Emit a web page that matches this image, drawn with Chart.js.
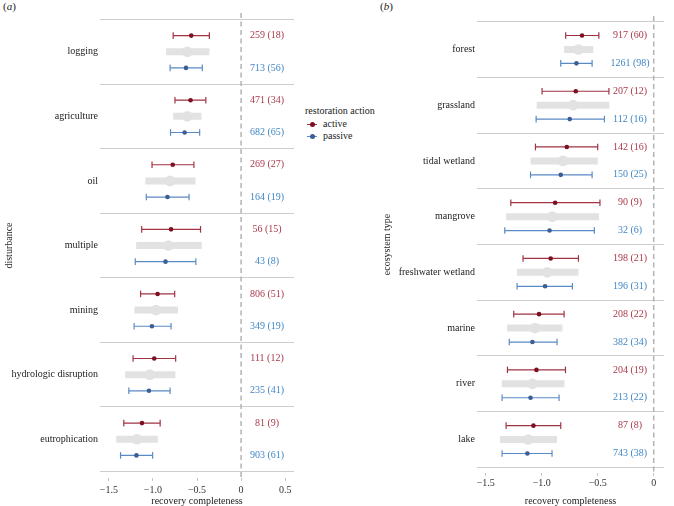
<!DOCTYPE html>
<html>
<head>
<meta charset="utf-8">
<script src="https://cdn.jsdelivr.net/npm/chart.js@4"></script>
<style>
    body { margin: 0; background: #fff; font-family: 'Liberation Serif', serif; }
    #wrap { position: relative; width: 674px; height: 506px; overflow: hidden; }
    .panel { position: absolute; top: 0; }
    .tag { position: absolute; top: 0; font-size: 11px; color: #222; }
    #legend { position: absolute; left: 305px; top: 105px; font-size: 10px; color: #222; line-height: 12.5px; }
    .item { padding-left: 2px; }
    .key { position: relative; display: inline-block; width: 10px; height: 0; border-top: 1.2px solid; vertical-align: middle; margin-right: 6px; }
    .key i { position: absolute; left: 3px; top: -3.1px; width: 5px; height: 5px; border-radius: 50%; }
</style>
</head>
<body>
<div id="wrap">
    <div class="tag" style="left:3px">(<i>a</i>)</div>
    <div class="tag" style="left:380px">(<i>b</i>)</div>
    <canvas id="distChart" class="panel" style="left:0" width="300" height="506"></canvas>
    <canvas id="ecoChart" class="panel" style="left:378px" width="296" height="506"></canvas>
    <div id="legend">
        <div>restoration action</div>
        <div class="item"><span class="key" style="color:#a23343"><i style="background:#7d1020"></i></span>active</div>
        <div class="item"><span class="key" style="color:#5a8ac6"><i style="background:#3b5e95"></i></span>passive</div>
    </div>
</div>
<script>
// panel (a): disturbance
const disturbances = ['logging', 'agriculture', 'oil', 'multiple', 'mining', 'hydrologic disruption', 'eutrophication'];
const distActive   = [-0.565, -0.573, -0.775, -0.794, -0.947, -0.985, -1.124];
const distActiveLo = [-0.77, -0.75, -1.01, -1.127, -1.14, -1.225, -1.33];
const distActiveHi = [-0.36, -0.40, -0.535, -0.46, -0.753, -0.742, -0.918];
const distPassive   = [-0.625, -0.64, -0.835, -0.857, -1.011, -1.045, -1.187];
const distPassiveLo = [-0.805, -0.80, -1.075, -1.20, -1.213, -1.273, -1.367];
const distPassiveHi = [-0.44, -0.47, -0.59, -0.513, -0.794, -0.805, -1.003];
const distPooled   = [-0.61, -0.61, -0.805, -0.824, -0.966, -1.034, -1.18];
const distPooledLo = [-0.85, -0.77, -1.086, -1.19, -1.21, -1.315, -1.416];
const distPooledHi = [-0.36, -0.45, -0.517, -0.446, -0.716, -0.745, -0.944];
const distActiveN  = ['259 (18)', '471 (34)', '269 (27)', '56 (15)', '806 (51)', '111 (12)', '81 (9)'];
const distPassiveN = ['713 (56)', '682 (65)', '164 (19)', '43 (8)', '349 (19)', '235 (41)', '903 (61)'];
const distTicks = [-1.5, -1, -0.5, 0, 0.5];

// panel (b): ecosystem type
const ecosystems = ['forest', 'grassland', 'tidal wetland', 'mangrove', 'freshwater wetland', 'marine', 'river', 'lake'];
const ecoActive   = [-0.64, -0.696, -0.776, -0.88, -0.92, -1.024, -1.047, -1.074];
const ecoActiveLo = [-0.786, -0.997, -1.056, -1.276, -1.167, -1.25, -1.306, -1.318];
const ecoActiveHi = [-0.49, -0.40, -0.50, -0.48, -0.672, -0.80, -0.788, -0.83];
const ecoPassive   = [-0.69, -0.75, -0.83, -0.93, -0.97, -1.083, -1.10, -1.128];
const ecoPassiveLo = [-0.83, -1.05, -1.10, -1.33, -1.22, -1.29, -1.354, -1.354];
const ecoPassiveHi = [-0.55, -0.44, -0.55, -0.53, -0.726, -0.863, -0.845, -0.908];
const ecoPooled   = [-0.673, -0.72, -0.81, -0.905, -0.95, -1.06, -1.083, -1.12];
const ecoPooledLo = [-0.80, -1.045, -1.10, -1.318, -1.22, -1.31, -1.357, -1.372];
const ecoPooledHi = [-0.54, -0.396, -0.50, -0.488, -0.672, -0.815, -0.797, -0.863];
const ecoActiveN  = ['917 (60)', '207 (12)', '142 (16)', '90 (9)', '198 (21)', '208 (22)', '204 (19)', '87 (8)'];
const ecoPassiveN = ['1261 (98)', '112 (16)', '150 (25)', '32 (6)', '196 (31)', '382 (34)', '213 (22)', '743 (38)'];
const ecoTicks = [-1.5, -1, -0.5, 0];

const SERIF = "'Liberation Serif', 'Times New Roman', serif";
const RED = '#a23343', RED_DOT = '#7d1020', RED_TXT = '#a9394a';
const BLUE = '#5a8ac6', BLUE_DOT = '#3b5e95', BLUE_TXT = '#3f86c4';
const GREY = '#e2e2e2';

// helper: interval segments separated by gaps
function segments(lo, hi, off) {
    const pts = [];
    lo.forEach((v, i) => {
        pts.push({ x: v, y: i + off }, { x: hi[i], y: i + off }, { x: null, y: null });
    });
    return pts;
}

function points(est, off) {
    return est.map((v, i) => ({ x: v, y: i + off }));
}

function fmtTick(v) {
    if (v === 0) return '0';
    return (v < 0 ? '\u2212' : '') + Math.abs(v).toFixed(1);
}

function makePanel(id, p) {
    const n = p.cats.length;
    const yMin = -0.6, yMax = n - 0.4;

    const countLabels = {
        id: 'countLabels',
        afterDatasetsDraw(chart) {
            const { ctx, scales: { x, y } } = chart;
            ctx.save();
            ctx.font = '10px ' + SERIF;
            ctx.textAlign = 'center';
            ctx.textBaseline = 'middle';
            const px = x.getPixelForValue(p.labelX);
            p.cats.forEach((c, i) => {
                ctx.fillStyle = RED_TXT;
                ctx.fillText(p.activeN[i], px, y.getPixelForValue(i - 0.25));
                ctx.fillStyle = BLUE_TXT;
                ctx.fillText(p.passiveN[i], px, y.getPixelForValue(i + 0.25));
            });
            ctx.restore();
        }
    };

    const barStyle = (color) => ({
        type: 'line',
        borderColor: color,
        borderWidth: 1.2,
        pointStyle: 'line',
        rotation: 90,
        pointRadius: 3.3,
        pointBorderColor: color,
        pointBorderWidth: 1.2,
        spanGaps: false
    });

    new Chart(document.getElementById(id), {
        type: 'scatter',
        data: {
            datasets: [
                {
                    type: 'line',
                    data: [{ x: 0, y: yMin }, { x: 0, y: yMax }],
                    borderColor: '#b3b3b3',
                    borderWidth: 1.5,
                    borderDash: [5, 3.5],
                    pointRadius: 0,
                    order: 6
                },
                {
                    type: 'line',
                    data: segments(p.pooledLo, p.pooledHi, 0),
                    borderColor: GREY,
                    borderWidth: 7,
                    borderCapStyle: 'butt',
                    pointRadius: 0,
                    spanGaps: false,
                    order: 5
                },
                {
                    data: points(p.pooled, 0),
                    backgroundColor: GREY,
                    borderWidth: 0,
                    pointRadius: 5.3,
                    order: 4
                },
                Object.assign({ data: segments(p.activeLo, p.activeHi, -0.25), order: 3 }, barStyle(RED)),
                Object.assign({ data: segments(p.passiveLo, p.passiveHi, 0.25), order: 3 }, barStyle(BLUE)),
                {
                    data: points(p.active, -0.25),
                    backgroundColor: RED_DOT,
                    borderWidth: 0,
                    pointRadius: 2.3,
                    order: 1
                },
                {
                    data: points(p.passive, 0.25),
                    backgroundColor: BLUE_DOT,
                    borderWidth: 0,
                    pointRadius: 2.3,
                    order: 1
                }
            ]
        },
        options: {
            responsive: false,
            animation: false,
            events: [],
            layout: { padding: { top: p.top, right: p.right, left: 0, bottom: 0 } },
            plugins: { legend: { display: false }, tooltip: { enabled: false } },
            scales: {
                x: {
                    type: 'linear',
                    min: p.xMin,
                    max: p.xMax,
                    afterBuildTicks: (axis) => { axis.ticks = p.ticks.map(v => ({ value: v })); },
                    afterFit: (scale) => { scale.height = p.xAxisH; },
                    border: { display: false },
                    grid: { drawOnChartArea: false, drawTicks: true, tickLength: 3, color: '#c4c4c4' },
                    ticks: {
                        callback: fmtTick,
                        font: { family: SERIF, size: 10 },
                        color: '#333',
                        padding: p.tickPad,
                        maxRotation: 0
                    },
                    title: {
                        display: true,
                        text: 'recovery completeness',
                        font: { family: SERIF, size: 10, lineHeight: 1 },
                        color: '#222',
                        padding: { top: 0, bottom: 0 }
                    }
                },
                y: {
                    type: 'linear',
                    reverse: true,
                    min: yMin,
                    max: yMax,
                    afterBuildTicks: (axis) => {
                        const t = [];
                        for (let v = -0.5; v <= n - 0.5; v += 0.5) t.push({ value: v });
                        axis.ticks = t;
                    },
                    afterFit: (scale) => { scale.width = p.yAxisW; },
                    border: { display: false },
                    grid: {
                        drawTicks: false,
                        lineWidth: 1,
                        color: (ctx) => ctx.tick && Number.isInteger(ctx.tick.value) ? 'rgba(0,0,0,0)' : '#cdcdcd'
                    },
                    ticks: {
                        autoSkip: false,
                        padding: 2,
                        font: { family: SERIF, size: 10 },
                        color: '#222',
                        callback: (v) => Number.isInteger(v) ? p.cats[v] : ''
                    },
                    title: {
                        display: true,
                        text: p.yTitle,
                        font: { family: SERIF, size: 10, lineHeight: 1.2 },
                        color: '#222',
                        padding: { top: 3, bottom: 0 }
                    }
                }
            }
        },
        plugins: [countLabels]
    });
}

makePanel('distChart', {
    cats: disturbances, yTitle: 'disturbance',
    active: distActive, activeLo: distActiveLo, activeHi: distActiveHi,
    passive: distPassive, passiveLo: distPassiveLo, passiveHi: distPassiveHi,
    pooled: distPooled, pooledLo: distPooledLo, pooledHi: distPooledHi,
    activeN: distActiveN, passiveN: distPassiveN,
    ticks: distTicks, xMin: -1.6, xMax: 0.6, labelX: 0.294,
    top: 13, right: 6, xAxisH: 28, yAxisW: 100, tickPad: 3
});

makePanel('ecoChart', {
    cats: ecosystems, yTitle: 'ecosystem type',
    active: ecoActive, activeLo: ecoActiveLo, activeHi: ecoActiveHi,
    passive: ecoPassive, passiveLo: ecoPassiveLo, passiveHi: ecoPassiveHi,
    pooled: ecoPooled, pooledLo: ecoPooledLo, pooledHi: ecoPooledHi,
    activeN: ecoActiveN, passiveN: ecoPassiveN,
    ticks: ecoTicks, xMin: -1.578, xMax: 0.092, labelX: -0.212,
    top: 16, right: 10, xAxisH: 33, yAxisW: 99, tickPad: 1
});
</script>
</body>
</html>
